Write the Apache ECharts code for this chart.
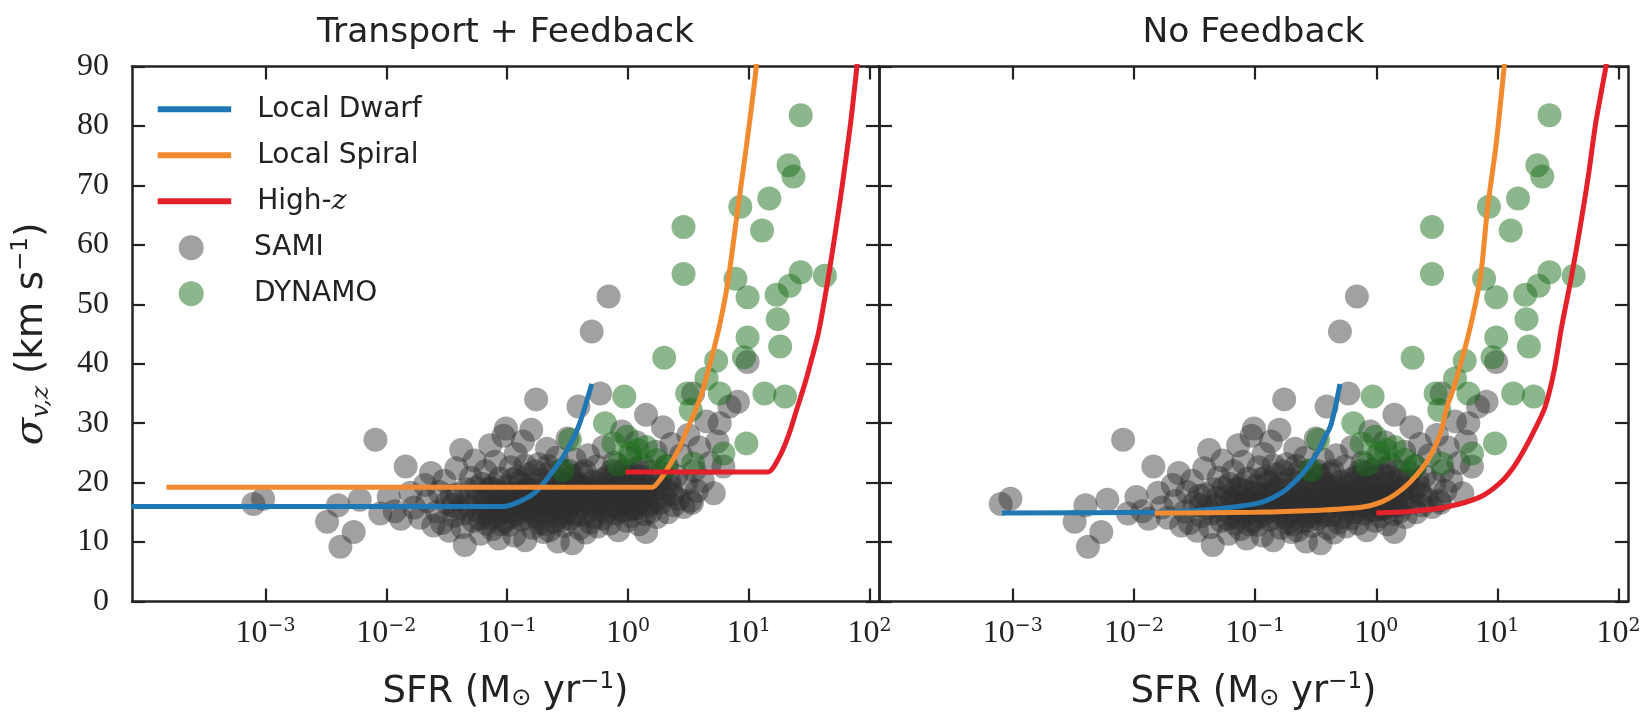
<!DOCTYPE html>
<html>
<head>
<meta charset="utf-8">
<script src="https://cdn.jsdelivr.net/npm/echarts@6/dist/echarts.min.js"></script>
<style>
  html, body { margin: 0; padding: 0; background: #ffffff; }
  #chart { width: 1649px; height: 714px; }
</style>
</head>
<body>
<div id="chart"></div>
<script>
// Panel titles and axis ticks
const panelTitles = ['Transport + Feedback', 'No Feedback'];
const xTickExponents = [-3, -2, -1, 0, 1, 2];   // log10 SFR tick positions
const yTickStep = 10;

// Observations: [log10 SFR (Msun/yr), sigma_v,z (km/s)]
const sami = [
  [-3.10,16.4],[-3.02,17.3],[-2.49,13.4],[-2.40,16.2],[-2.38,9.2],[-2.27,11.7],[-2.22,17.1],[-2.09,27.2],
  [-2.05,14.8],[-1.98,17.6],[-1.93,15.2],[-1.88,13.9],[-1.84,22.7],[-1.80,18.3],[-1.77,15.8],[-1.72,14.1],
  [-1.68,19.6],[-1.66,16.9],[-1.63,21.6],[-1.61,12.8],
  [-1.58,15.1],[-1.56,18.4],[-1.54,13.2],[-1.52,20.3],[-1.50,16.6],[-1.48,11.9],[-1.46,17.8],[-1.44,14.4],
  [-1.42,22.4],[-1.40,15.7],[-1.38,25.5],[-1.37,12.5],[-1.35,9.5],[-1.34,18.9],[-1.32,16.2],[-1.30,20.8],
  [-1.28,13.6],[-1.27,23.7],[-1.25,15.4],[-1.24,17.5],[-1.22,11.4],[-1.21,19.8],[-1.20,14.6],[-1.19,16.9],
  [-1.18,21.9],[-1.17,13.1],[-1.16,17.7],[-1.15,15.2],[-1.14,26.3],[-1.13,19.0],[-1.12,12.2],[-1.11,16.4],
  [-1.10,23.5],[-1.09,14.3],[-1.08,18.6],[-1.07,10.6],[-1.06,20.7],[-1.05,15.8],[-1.04,17.2],[-1.03,27.9],
  [-1.02,13.5],[-1.01,29.1],[-1.00,16.1],[-0.99,19.4],[-0.98,12.9],[-0.97,22.6],[-0.96,15.0],[-0.95,17.9],
  [-0.94,11.1],[-0.93,24.8],[-0.92,14.7],[-0.91,18.2],[-0.90,16.7],[-0.89,20.1],[-0.88,13.8],[-0.87,26.9],
  [-0.86,15.5],[-0.85,10.3],[-0.84,18.8],[-0.83,21.4],[-0.82,14.1],[-0.81,16.9],[-0.80,28.9],[-0.79,12.4],
  [-0.78,19.7],[-0.77,15.3],[-0.76,34.0],[-0.75,17.4],[-0.74,23.1],[-0.73,13.2],[-0.72,16.2],[-0.71,20.5],
  [-0.70,11.7],[-0.69,18.1],[-0.68,14.9],[-0.67,25.7],[-0.66,17.0],[-0.65,12.0],[-0.64,21.8],[-0.63,15.6],
  [-0.62,19.2],[-0.61,13.4],[-0.60,16.5],[-0.59,24.2],[-0.58,10.1],[-0.57,18.5],[-0.56,14.2],[-0.55,22.0],
  [-0.54,16.8],[-0.53,12.7],[-0.52,19.9],[-0.51,15.1],[-0.50,27.4],[-0.49,17.6],[-0.48,13.9],[-0.47,20.9],
  [-0.46,9.8],[-0.45,16.3],[-0.44,23.9],[-0.43,14.6],[-0.42,18.7],[-0.41,32.8],[-0.40,12.3],
  [-1.15,18.9],[-1.05,13.0],[-0.98,16.4],[-0.93,17.3],[-0.88,15.9],[-0.83,17.6],[-0.78,16.0],[-0.72,18.6],
  [-0.68,16.6],[-0.63,17.8],[-0.57,15.9],[-0.53,17.1],[-0.47,16.0],[-0.43,19.6],[-1.10,16.2],[-0.95,20.6],
  [-0.85,22.9],[-0.75,14.1],[-0.65,19.9],[-0.55,13.7],[-0.45,21.2],
  [-0.39,17.2],[-0.38,21.5],[-0.37,14.5],[-0.36,19.3],[-0.35,11.6],[-0.34,16.6],[-0.33,24.6],[-0.32,18.0],
  [-0.31,13.3],[-0.30,45.4],[-0.29,20.2],[-0.28,15.4],[-0.27,17.7],[-0.26,22.7],[-0.25,12.6],[-0.24,19.1],
  [-0.23,35.0],[-0.22,16.1],[-0.21,14.0],[-0.20,26.0],[-0.19,18.4],[-0.18,15.0],[-0.17,21.0],[-0.16,51.3],
  [-0.15,13.1],[-0.14,17.3],[-0.13,19.8],[-0.12,16.0],[-0.11,23.4],[-0.10,14.8],[-0.09,18.9],[-0.08,12.0],
  [-0.07,20.6],[-0.06,16.7],[-0.05,28.6],[-0.04,15.3],[-0.03,22.1],[-0.02,17.9],[-0.01,13.6],[0.00,19.5],
  [0.01,16.3],[0.02,24.0],[0.03,14.4],[0.04,18.2],[0.05,21.3],[0.06,15.7],[0.07,26.8],[0.08,17.0],
  [0.09,13.0],[0.10,20.0],[0.11,16.9],[0.12,23.0],[0.13,18.6],[0.14,14.7],[0.15,31.4],[0.15,11.7],
  [0.16,19.2],[0.17,16.1],[0.18,21.9],[0.19,15.1],
  [-0.35,18.4],[-0.25,16.9],[-0.15,18.1],[-0.05,17.5],[0.05,18.0],[0.12,17.4],[-0.30,16.0],[-0.20,19.9],
  [-0.10,21.7],[0.00,15.4],[0.08,22.4],
  [0.21,18.0],[0.23,25.2],[0.24,14.2],[0.26,20.4],[0.27,16.6],[0.29,29.3],[0.30,17.8],[0.32,22.8],
  [0.33,15.0],[0.35,19.4],[0.36,26.5],[0.38,16.2],[0.40,21.1],[0.42,17.2],[0.44,24.6],[0.46,15.9],
  [0.48,19.9],[0.50,28.0],[0.52,17.0],[0.53,16.6],[0.54,35.0],[0.55,22.0],[0.57,18.6],[0.59,25.9],
  [0.62,20.3],[0.65,30.3],[0.68,23.3],[0.71,18.2],[0.74,26.9],[0.76,30.0],[0.79,22.7],[0.84,32.8],
  [0.91,33.6],[0.99,40.3],
  [-1.45,16.2],[-1.41,18.0],[-1.36,14.8],[-1.31,17.4],[-1.26,19.1],[-1.23,13.9],[-1.18,16.0],[-1.14,14.0],
  [-1.11,19.7],[-1.07,17.0],[-1.04,15.0],[-1.00,18.3],[-0.97,14.2],[-0.94,16.5],[-0.91,21.0],[-0.89,15.2],
  [-0.86,18.0],[-0.82,19.0],[-0.80,15.0],[-0.77,21.9],[-0.74,15.8],[-0.71,17.3],[-0.69,13.0],[-0.66,22.8],
  [-0.64,15.2],[-0.61,18.2],[-0.59,16.0],[-0.56,20.3],[-0.54,14.9],[-0.51,18.2],[-0.49,22.0],[-0.46,17.5],
  [-0.44,15.0],[-0.41,19.8],[-0.38,16.0],[-0.36,22.0],[-0.33,17.0],[-0.31,19.0],[-0.28,14.2],[-0.26,18.5],
  [-0.23,16.6],[-0.21,20.5],[-0.18,17.2],[-0.16,15.6],[-0.13,22.0],[-0.11,17.8],[-0.08,15.9],[-0.06,19.3],
  [-0.03,16.8],[-0.01,20.8],[0.02,17.6],[0.04,15.6],[0.07,19.2],[0.09,16.6],[0.11,21.0],[0.14,18.0],
  [0.16,16.4],[0.19,20.3],[0.22,17.0],[0.25,19.0],[0.28,21.6],[0.31,18.8],[0.34,20.5],[0.37,18.0]
];

const dynamo = [
  [1.43,81.8],[1.33,73.4],[1.37,71.5],[1.17,67.8],[0.93,66.4],[1.11,62.4],[0.46,63.0],[0.46,55.1],
  [0.89,54.3],[0.99,51.2],[1.23,51.6],[1.34,53.1],[1.43,55.4],[1.63,54.8],[1.24,47.5],[0.99,44.4],
  [1.26,42.9],[0.30,41.0],[0.73,40.5],[0.96,41.1],[0.65,37.5],[0.76,35.0],[1.13,35.0],[1.30,34.5],
  [-0.03,34.5],[0.52,32.2],[0.49,35.0],[-0.19,30.0],[-0.48,27.2],[-0.54,22.1],[-0.01,27.7],[0.15,26.0],
  [0.02,24.9],[-0.12,26.6],[0.24,23.8],[0.98,26.6],[0.79,24.9],[0.54,23.2],[0.32,22.7],[0.08,25.5],
  [-0.08,23.0]
];

// Model tracks, left panel (transport + feedback)
const dwarfTF  = [[-4.11,16.0],[-1.12,16.0],[-1.03,16.0],[-0.90,16.8],[-0.76,18.5],[-0.64,21.4],[-0.52,24.9],
                  [-0.41,29.4],[-0.30,36.6]];
const spiralTF = [[-3.82,19.2],[0.12,19.2],[0.20,19.2],[0.27,20.6],[0.32,22.1],[0.41,25.2],[0.50,29.4],[0.56,32.2],
                  [0.62,35.6],[0.69,40.8],[0.76,46.6],[0.83,54.1],[0.91,66.2],[0.98,76.5],[1.05,87.7],[1.07,92.0]];
const highzTF  = [[-0.02,21.8],[1.08,21.8],[1.16,21.8],[1.25,24.2],[1.33,28.0],[1.40,32.5],[1.47,37.0],[1.53,41.5],
                  [1.58,45.5],[1.655,54.1],[1.72,62.5],[1.78,70.9],[1.84,80.0],[1.883,87.7],[1.90,91.0]];

// Model tracks, right panel (no feedback)
const dwarfNF  = [[-3.09,14.9],[-1.80,15.0],[-1.35,15.5],[-1.10,16.1],[-0.93,16.8],[-0.78,18.3],[-0.66,20.4],
                  [-0.57,22.5],[-0.49,24.9],[-0.43,27.4],[-0.38,29.4],[-0.34,32.5],[-0.30,36.6]];
const spiralNF = [[-1.83,14.9],[-1.00,15.0],[-0.52,15.3],[-0.11,15.9],[0.05,16.8],[0.17,18.2],[0.28,20.1],[0.39,22.7],
                  [0.46,25.0],[0.53,28.3],[0.585,32.8],[0.64,36.0],[0.705,40.6],[0.78,46.5],[0.86,54.6],[0.92,66.4],
                  [0.99,77.0],[1.056,90.0],[1.07,93.0]];
const highzNF  = [[0.00,14.9],[0.30,15.2],[0.58,15.9],[0.86,17.6],[1.02,19.9],[1.13,22.5],[1.22,25.5],[1.31,29.0],
                  [1.395,32.8],[1.47,39.0],[1.53,46.2],[1.61,54.5],[1.684,63.1],[1.75,71.5],[1.807,79.9],[1.86,86.0],
                  [1.896,90.0],[1.91,92.0]];

const tracks = [
  { dwarf: dwarfTF, spiral: spiralTF, highz: highzTF },
  { dwarf: dwarfNF, spiral: spiralNF, highz: highzNF }
];

const INK = '#222222';
const COLORS = { dwarf: '#1f77b4', spiral: '#f28a30', highz: '#e4202a', sami: '#2e2e2e', dynamo: '#1a6e1a' };
const X_MIN = -4.105, X_MAX = 2.078;
const grids = [
  { left: 132, top: 66.5, width: 747, height: 535 },
  { left: 879, top: 66.5, width: 749, height: 535 }
];

const tickStyle = { show: true, inside: true, length: 13, lineStyle: { color: INK, width: 2.2 } };
const lineAxis = { show: true, onZero: false, lineStyle: { color: INK, width: 2.5 } };

function expLabel(v) {
  const e = v < 0 ? '\u2212' + (-v) : String(v);
  return '{b|10}{s|' + e + '}';
}

const xAxes = [], yAxes = [];
grids.forEach((g, i) => {
  xAxes.push({
    type: 'value', gridIndex: i, position: 'bottom', min: X_MIN, max: X_MAX,
    axisLine: lineAxis, splitLine: { show: false },
    axisTick: Object.assign({}, tickStyle, { customValues: xTickExponents }),
    axisLabel: {
      customValues: xTickExponents, formatter: expLabel, margin: 13.5, color: INK,
      rich: {
        b: { fontFamily: 'Liberation Serif', fontSize: 32, lineHeight: 38, color: INK },
        s: { fontFamily: 'DejaVu Serif', fontSize: 19, lineHeight: 19, verticalAlign: 'top', padding: [2, 0, 0, 0], color: INK }
      }
    },
    name: '{t|SFR (M}{sub|\u2299}{t| yr}{sup|\u22121}{t|)}',
    nameLocation: 'middle', nameGap: 69,
    nameTextStyle: {
      color: INK,
      rich: {
        t: { fontFamily: 'DejaVu Sans', fontSize: 37, lineHeight: 44, color: INK },
        sub: { fontFamily: 'DejaVu Sans', fontSize: 24, lineHeight: 24, verticalAlign: 'bottom', padding: [0, 0, 4, 0], color: INK },
        sup: { fontFamily: 'DejaVu Sans', fontSize: 23, lineHeight: 23, verticalAlign: 'top', color: INK }
      }
    }
  });
  xAxes.push({
    type: 'value', gridIndex: i, position: 'top', min: X_MIN, max: X_MAX,
    axisLine: lineAxis, splitLine: { show: false },
    axisTick: Object.assign({}, tickStyle, { customValues: xTickExponents }),
    axisLabel: { show: false }
  });
  const left = {
    type: 'value', gridIndex: i, position: 'left', min: 0, max: 90, interval: yTickStep,
    axisLine: lineAxis, splitLine: { show: false }, axisTick: tickStyle,
    axisLabel: { show: i === 0, fontFamily: 'Liberation Serif', fontSize: 32, color: INK, margin: 23 }
  };
  if (i === 0) {
    left.name = '{m|\u03c3}{sub|v,z}{t| (km s}{sup|\u22121}{t|)}';
    left.nameLocation = 'middle';
    left.nameGap = 78;
    left.nameTextStyle = {
      color: INK,
      rich: {
        m: { fontFamily: 'DejaVu Serif', fontStyle: 'italic', fontSize: 40, lineHeight: 44, color: INK },
        sub: { fontFamily: 'DejaVu Serif', fontStyle: 'italic', fontSize: 25, lineHeight: 25, verticalAlign: 'bottom', color: INK },
        t: { fontFamily: 'DejaVu Sans', fontSize: 37, lineHeight: 44, color: INK },
        sup: { fontFamily: 'DejaVu Sans', fontSize: 23, lineHeight: 23, verticalAlign: 'top', color: INK }
      }
    };
  }
  yAxes.push(left);
  yAxes.push({
    type: 'value', gridIndex: i, position: 'right', min: 0, max: 90, interval: yTickStep,
    axisLine: lineAxis, splitLine: { show: false }, axisTick: tickStyle,
    axisLabel: { show: false }
  });
});

const series = [];
grids.forEach((g, i) => {
  const axes = { xAxisIndex: i * 2, yAxisIndex: i * 2 };
  series.push(Object.assign({
    name: 'SAMI', type: 'scatter', data: sami, symbolSize: 24, z: 2, silent: true,
    itemStyle: { color: COLORS.sami, opacity: 0.45 }, emphasis: { disabled: true }
  }, axes));
  series.push(Object.assign({
    name: 'DYNAMO', type: 'scatter', data: dynamo, symbolSize: 24, z: 2, silent: true,
    itemStyle: { color: COLORS.dynamo, opacity: 0.5 }, emphasis: { disabled: true }
  }, axes));
  [['Local Dwarf', 'dwarf'], ['Local Spiral', 'spiral'], ['High-z', 'highz']].forEach(([name, key]) => {
    series.push(Object.assign({
      name, type: 'line', data: tracks[i][key], showSymbol: false, symbol: 'none', z: 3, silent: true,
      clip: true, smooth: 0.3, itemStyle: { color: COLORS[key] },
      lineStyle: { color: COLORS[key], width: 5 }, emphasis: { disabled: true }
    }, axes));
  });
});

const legendText = {
  fontFamily: 'DejaVu Sans', fontSize: 28, lineHeight: 34, color: INK, padding: [0, 0, 0, 21],
  rich: { i: { fontFamily: 'DejaVu Serif', fontStyle: 'italic', fontSize: 28, lineHeight: 34, color: INK } }
};

const option = {
  backgroundColor: '#ffffff',
  animation: false,
  grid: grids.map(g => Object.assign({ outerBoundsMode: 'none', containLabel: false }, g)),
  xAxis: xAxes,
  yAxis: yAxes,
  legend: [
    {
      orient: 'vertical', left: 157.7, top: 92.3, padding: 0, itemGap: 12,
      itemWidth: 73.5, itemHeight: 6, icon: 'rect', selectedMode: false,
      data: ['Local Dwarf', 'Local Spiral', 'High-z'],
      formatter: n => (n === 'High-z' ? 'High-{i|z}' : n),
      textStyle: legendText
    },
    {
      orient: 'vertical', left: 178.7, top: 230.7, padding: 0, itemGap: 12,
      itemWidth: 73.5, itemHeight: 25, icon: 'circle', selectedMode: false,
      data: [
        { name: 'SAMI', itemStyle: { color: COLORS.sami, opacity: 0.45 } },
        { name: 'DYNAMO', itemStyle: { color: COLORS.dynamo, opacity: 0.5 } }
      ],
      textStyle: legendText
    }
  ],
  graphic: panelTitles.map((t, i) => ({
    type: 'text', x: grids[i].left + grids[i].width / 2, y: 33.5, silent: true,
    style: { text: t, fontFamily: 'DejaVu Sans', fontSize: 34.5, fill: INK, align: 'center', verticalAlign: 'middle' }
  })),
  series
};

const chart = echarts.init(document.getElementById('chart'), null, { renderer: 'canvas' });
chart.setOption(option);
</script>
</body>
</html>
